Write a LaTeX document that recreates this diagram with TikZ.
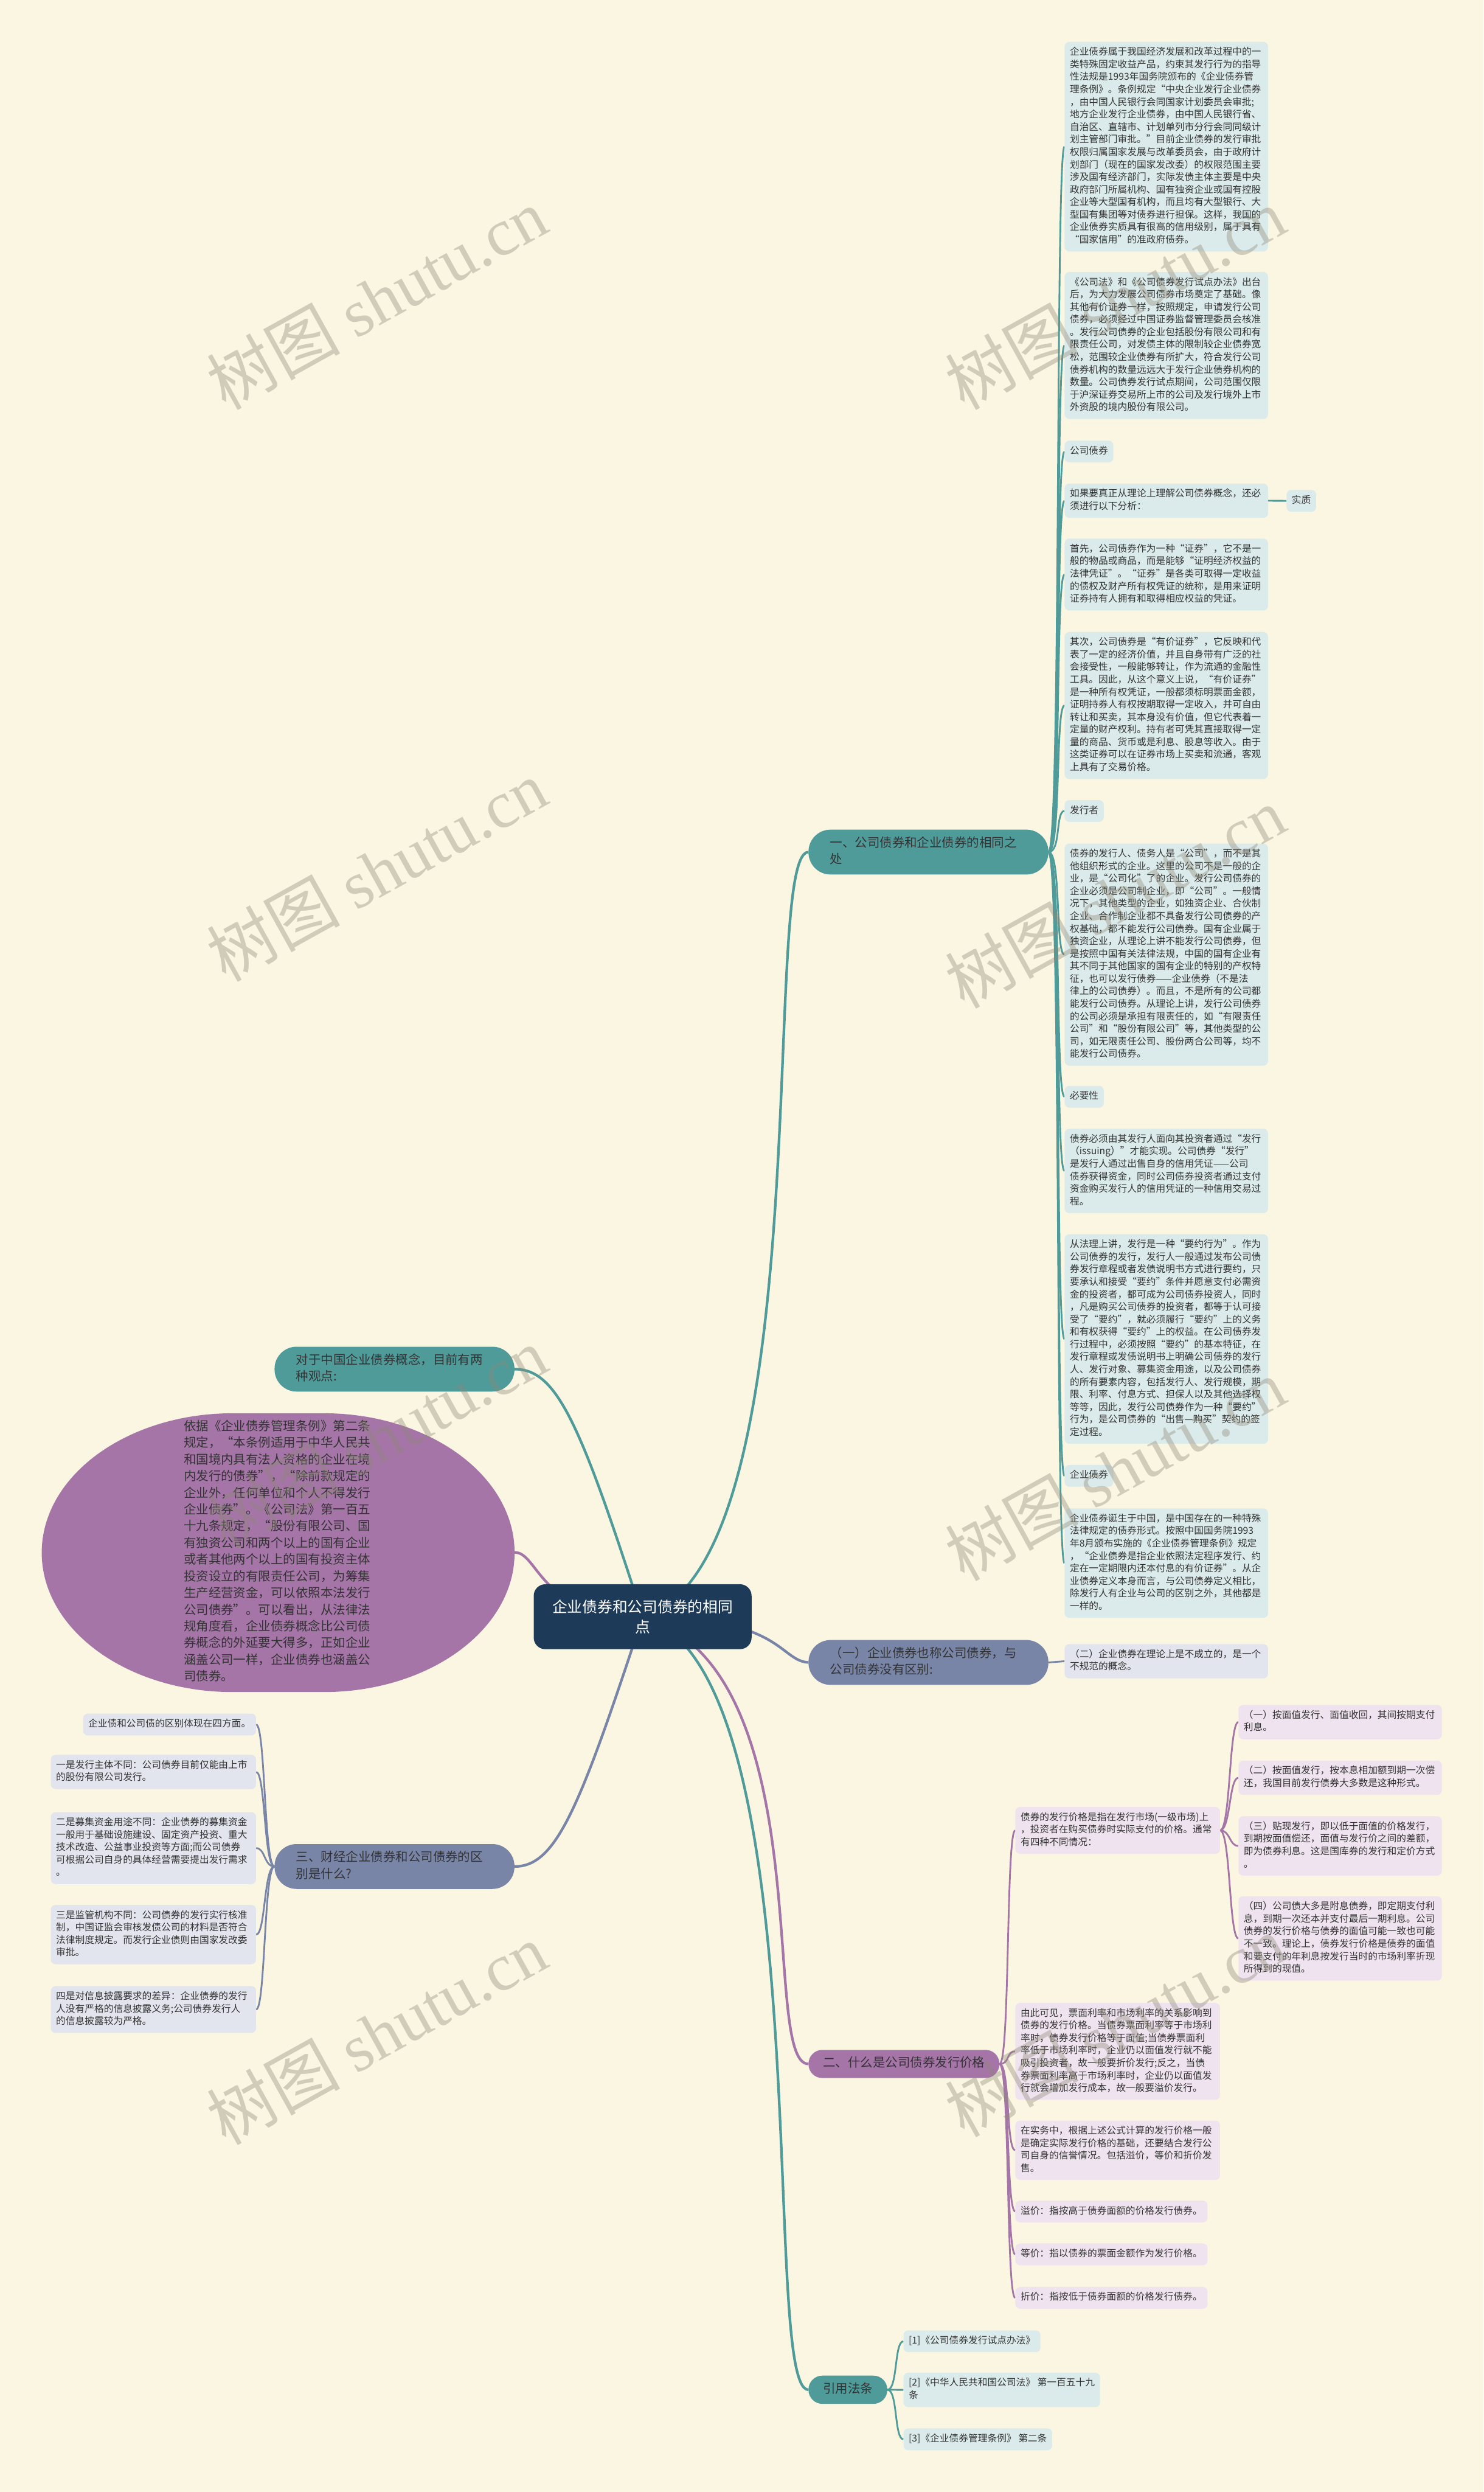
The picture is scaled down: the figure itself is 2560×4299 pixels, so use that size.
\documentclass[tikz,border=0pt]{standalone}
\usepackage{fontspec}
\setmainfont{Noto Sans CJK SC}
\newfontfamily\wmfont{Liberation Serif}
\definecolor{bgc}{HTML}{FBF6E2}
\definecolor{tealD}{HTML}{4E9B9A}
\definecolor{grayD}{HTML}{7985A7}
\definecolor{purpD}{HTML}{A575A8}
\definecolor{navy}{HTML}{1D3B58}
\definecolor{tealL}{HTML}{DBEAEA}
\definecolor{grayL}{HTML}{E3E5EE}
\definecolor{purpL}{HTML}{EEE3EE}
\definecolor{txt}{HTML}{333333}
\definecolor{wmc}{HTML}{8E8A78}
\newcommand\fsA{\fontsize{16.5pt}{21.6pt}\selectfont}
\newcommand\fsB{\fontsize{21.5pt}{28.7pt}\selectfont}
\newcommand\fsC{\fontsize{26pt}{34pt}\selectfont}
\newcommand\fsE{\fontsize{21.5pt}{28.8pt}\selectfont}
\newcommand\fsW{\fontsize{115pt}{120pt}\selectfont}
\pgfdeclarelayer{bglayer}
\pgfsetlayers{bglayer,main}
\tikzset{
  leaf/.style={anchor=north west, rounded corners=8pt, inner xsep=9pt, inner ysep=8pt, align=left, font=\fsA, text=txt},
  tleaf/.style={leaf, fill=tealL},
  gleaf/.style={leaf, fill=grayL},
  pleaf/.style={leaf, fill=purpL},
  lleaf/.style={gleaf, anchor=north east},
  wide/.style={text width=333pt},
  topic/.style={anchor=north west, align=left, font=\fsB, text=txt, inner ysep=10pt},
  topicW/.style={topic, text width=340pt, inner xsep=37pt, rounded corners=38pt},
  topicN/.style={topic, inner xsep=25pt, rounded corners=24pt},
  edgeM/.style={line width=4.5pt},
  edgeS/.style={line width=3pt},
  wmark/.style={rotate=29, text=wmc, opacity=0.38, font=\fsW}
}
\begin{document}
\begin{tikzpicture}[x=1pt,y=-1pt]
\begin{pgfonlayer}{bglayer}
\fill[bgc] (0,0) rectangle (2560,4299);
\end{pgfonlayer}
\useasboundingbox (0,0) rectangle (2560,4299);

% ---------- root ----------
\node[fill=navy, text=white, font=\fsC, rounded corners=20pt, minimum width=376pt, minimum height=112pt, align=center] (root) at (1109,2789) {企业债券和公司债券的相同\\点};

% ---------- level 1 ----------
\node[topicW, fill=tealD] (a1) at (1395,1431) {\strut 一、公司债券和企业债券的相同之\\处\strut};
\node[topicW, fill=grayD] (a2) at (1395,2829) {\strut （一）企业债券也称公司债券，与\\公司债券没有区别:\strut};
\node[topicN, fill=purpD] (a3) at (1395,3536) {\strut 二、什么是公司债券发行价格\strut};
\node[topicN, fill=tealD] (a4) at (1395,4098) {\strut 引用法条\strut};
\node[topicW, fill=tealD, anchor=north east] (b1) at (888,2323) {\strut 对于中国企业债券概念，目前有两\\种观点:\strut};
\node[topicW, fill=grayD, anchor=north east] (b3) at (888,3181) {\strut 三、财经企业债券和公司债券的区\\别是什么?\strut};

% ellipse-like bubble
\fill[purpD] (402,2438) -- (558,2438) arc[start angle=-90, end angle=90, x radius=330, y radius=240.5] -- (402,2919) arc[start angle=90, end angle=270, x radius=330, y radius=240.5] -- cycle;
\coordinate (b2) at (888,2678);
\node[font=\fsE, text=txt, text width=326pt, align=left, inner sep=0pt] (b2t) at (480,2678) {\strut 依据《企业债券管理条例》第二条\\规定，“本条例适用于中华人民共\\和国境内具有法人资格的企业在境\\内发行的债券”，“除前款规定的\\企业外，任何单位和个人不得发行\\企业债券”。《公司法》第一百五\\十九条规定，“股份有限公司、国\\有独资公司和两个以上的国有企业\\或者其他两个以上的国有投资主体\\投资设立的有限责任公司，为筹集\\生产经营资金，可以依照本法发行\\公司债券”。可以看出，从法律法\\规角度看，企业债券概念比公司债\\券概念的外延要大得多，正如企业\\涵盖公司一样，企业债券也涵盖公\\司债券。\strut};

% ---------- right column (branch 1) ----------
\node[tleaf, wide] (r1) at (1837,72) {\strut 企业债券属于我国经济发展和改革过程中的一\\类特殊固定收益产品，约束其发行行为的指导\\性法规是1993年国务院颁布的《企业债券管\\理条例》。条例规定“中央企业发行企业债券\\，由中国人民银行会同国家计划委员会审批;\\地方企业发行企业债券，由中国人民银行省、\\自治区、直辖市、计划单列市分行会同同级计\\划主管部门审批。”目前企业债券的发行审批\\权限归属国家发展与改革委员会，由于政府计\\划部门（现在的国家发改委）的权限范围主要\\涉及国有经济部门，实际发债主体主要是中央\\政府部门所属机构、国有独资企业或国有控股\\企业等大型国有机构，而且均有大型银行、大\\型国有集团等对债券进行担保。这样，我国的\\企业债券实质具有很高的信用级别，属于具有\\“国家信用”的准政府债券。\strut};
\node[tleaf, wide] (r2) at (1837,469) {\strut《公司法》和《公司债券发行试点办法》出台\\后，为大力发展公司债券市场奠定了基础。像\\其他有价证券一样，按照规定，申请发行公司\\债券，必须经过中国证券监督管理委员会核准\\。发行公司债券的企业包括股份有限公司和有\\限责任公司，对发债主体的限制较企业债券宽\\松，范围较企业债券有所扩大，符合发行公司\\债券机构的数量远远大于发行企业债券机构的\\数量。公司债券发行试点期间，公司范围仅限\\于沪深证券交易所上市的公司及发行境外上市\\外资股的境内股份有限公司。\strut};
\node[tleaf] (r3) at (1837,760) {\strut 公司债券\strut};
\node[tleaf, wide] (r4) at (1837,834) {\strut 如果要真正从理论上理解公司债券概念，还必\\须进行以下分析：\strut};
\node[tleaf] (r4b) at (2220,845) {\strut 实质\strut};
\node[tleaf, wide] (r5) at (1837,929) {\strut 首先，公司债券作为一种“证券”，它不是一\\般的物品或商品，而是能够“证明经济权益的\\法律凭证”。“证券”是各类可取得一定收益\\的债权及财产所有权凭证的统称，是用来证明\\证券持有人拥有和取得相应权益的凭证。\strut};
\node[tleaf, wide] (r6) at (1837,1090) {\strut 其次，公司债券是“有价证券”，它反映和代\\表了一定的经济价值，并且自身带有广泛的社\\会接受性，一般能够转让，作为流通的金融性\\工具。因此，从这个意义上说，“有价证券”\\是一种所有权凭证，一般都须标明票面金额，\\证明持券人有权按期取得一定收入，并可自由\\转让和买卖，其本身没有价值，但它代表着一\\定量的财产权利。持有者可凭其直接取得一定\\量的商品、货币或是利息、股息等收入。由于\\这类证券可以在证券市场上买卖和流通，客观\\上具有了交易价格。\strut};
\node[tleaf] (r7) at (1837,1380) {\strut 发行者\strut};
\node[tleaf, wide] (r8) at (1837,1455) {\strut 债券的发行人、债务人是“公司”，而不是其\\他组织形式的企业。这里的公司不是一般的企\\业，是“公司化”了的企业。发行公司债券的\\企业必须是公司制企业，即“公司”。一般情\\况下，其他类型的企业，如独资企业、合伙制\\企业、合作制企业都不具备发行公司债券的产\\权基础，都不能发行公司债券。国有企业属于\\独资企业，从理论上讲不能发行公司债券，但\\是按照中国有关法律法规，中国的国有企业有\\其不同于其他国家的国有企业的特别的产权特\\征，也可以发行债券——企业债券（不是法\\律上的公司债券）。而且，不是所有的公司都\\能发行公司债券。从理论上讲，发行公司债券\\的公司必须是承担有限责任的，如“有限责任\\公司”和“股份有限公司”等，其他类型的公\\司，如无限责任公司、股份两合公司等，均不\\能发行公司债券。\strut};
\node[tleaf] (r9) at (1837,1873) {\strut 必要性\strut};
\node[tleaf, wide] (r10) at (1837,1947) {\strut 债券必须由其发行人面向其投资者通过“发行\\（issuing）”才能实现。公司债券“发行”\\是发行人通过出售自身的信用凭证——公司\\债券获得资金，同时公司债券投资者通过支付\\资金购买发行人的信用凭证的一种信用交易过\\程。\strut};
\node[tleaf, wide] (r11) at (1837,2129) {\strut 从法理上讲，发行是一种“要约行为”。作为\\公司债券的发行，发行人一般通过发布公司债\\券发行章程或者发债说明书方式进行要约，只\\要承认和接受“要约”条件并愿意支付必需资\\金的投资者，都可成为公司债券投资人，同时\\，凡是购买公司债券的投资者，都等于认可接\\受了“要约”，就必须履行“要约”上的义务\\和有权获得“要约”上的权益。在公司债券发\\行过程中，必须按照“要约”的基本特征，在\\发行章程或发债说明书上明确公司债券的发行\\人、发行对象、募集资金用途，以及公司债券\\的所有要素内容，包括发行人、发行规模，期\\限、利率、付息方式、担保人以及其他选择权\\等等，因此，发行公司债券作为一种“要约”\\行为，是公司债券的“出售—购买”契约的签\\定过程。\strut};
\node[tleaf] (r12) at (1837,2527) {\strut 企业债券\strut};
\node[tleaf, wide] (r13) at (1837,2602) {\strut 企业债券诞生于中国，是中国存在的一种特殊\\法律规定的债券形式。按照中国国务院1993\\年8月颁布实施的《企业债券管理条例》规定\\，“企业债券是指企业依照法定程序发行、约\\定在一定期限内还本付息的有价证券”。从企\\业债券定义本身而言，与公司债券定义相比，\\除发行人有企业与公司的区别之外，其他都是\\一样的。\strut};
\node[gleaf, wide] (r14) at (1837,2836) {\strut（二）企业债券在理论上是不成立的，是一个\\不规范的概念。\strut};

% ---------- price branch ----------
\node[pleaf, text width=335pt] (p0) at (1752,3117) {\strut 债券的发行价格是指在发行市场(一级市场)上\\，投资者在购买债券时实际支付的价格。通常\\有四种不同情况：\strut};
\node[pleaf, wide] (p1) at (2137,2941) {\strut（一）按面值发行、面值收回，其间按期支付\\利息。\strut};
\node[pleaf, wide] (p2) at (2137,3037) {\strut（二）按面值发行，按本息相加额到期一次偿\\还，我国目前发行债券大多数是这种形式。\strut};
\node[pleaf, wide] (p3) at (2137,3133) {\strut（三）贴现发行，即以低于面值的价格发行，\\到期按面值偿还，面值与发行价之间的差额，\\即为债券利息。这是国库券的发行和定价方式\\。\strut};
\node[pleaf, wide] (p4) at (2137,3271) {\strut（四）公司债大多是附息债券，即定期支付利\\息，到期一次还本并支付最后一期利息。公司\\债券的发行价格与债券的面值可能一致也可能\\不一致。理论上，债券发行价格是债券的面值\\和要支付的年利息按发行当时的市场利率折现\\所得到的现值。\strut};
\node[pleaf, text width=335pt] (p5) at (1752,3455) {\strut 由此可见，票面利率和市场利率的关系影响到\\债券的发行价格。当债券票面利率等于市场利\\率时，债券发行价格等于面值;当债券票面利\\率低于市场利率时，企业仍以面值发行就不能\\吸引投资者，故一般要折价发行;反之，当债\\券票面利率高于市场利率时，企业仍以面值发\\行就会增加发行成本，故一般要溢价发行。\strut};
\node[pleaf, text width=335pt] (p6) at (1752,3658) {\strut 在实务中，根据上述公式计算的发行价格一般\\是确定实际发行价格的基础，还要结合发行公\\司自身的信誉情况。包括溢价，等价和折价发\\售。\strut};
\node[pleaf] (p7) at (1752,3796) {\strut 溢价：指按高于债券面额的价格发行债券。\strut};
\node[pleaf] (p8) at (1752,3870) {\strut 等价：指以债券的票面金额作为发行价格。\strut};
\node[pleaf] (p9) at (1752,3945) {\strut 折价：指按低于债券面额的价格发行债券。\strut};

% ---------- citations ----------
\node[tleaf] (c1) at (1559,4020) {\strut[1]《公司债券发行试点办法》\strut};
\node[tleaf] (c2) at (1559,4093) {\strut[2]《中华人民共和国公司法》~第一百五十九\\条\strut};
\node[tleaf] (c3) at (1559,4189) {\strut[3]《企业债券管理条例》~第二条\strut};

% ---------- left branch (三) ----------
\node[lleaf] (l0) at (442,2956) {\strut 企业债和公司债的区别体现在四方面。\strut};
\node[lleaf, text width=336pt] (l1) at (442,3027) {\strut 一是发行主体不同：公司债券目前仅能由上市\\的股份有限公司发行。\strut};
\node[lleaf, text width=336pt] (l2) at (442,3126) {\strut 二是募集资金用途不同：企业债券的募集资金\\一般用于基础设施建设、固定资产投资、重大\\技术改造、公益事业投资等方面;而公司债券\\可根据公司自身的具体经营需要提出发行需求\\。\strut};
\node[lleaf, text width=336pt] (l3) at (442,3286) {\strut 三是监管机构不同：公司债券的发行实行核准\\制，中国证监会审核发债公司的材料是否符合\\法律制度规定。而发行企业债则由国家发改委\\审批。\strut};
\node[lleaf, text width=336pt] (l4) at (442,3426) {\strut 四是对信息披露要求的差异：企业债券的发行\\人没有严格的信息披露义务;公司债券发行人\\的信息披露较为严格。\strut};

% ---------- connectors ----------
\begin{pgfonlayer}{bglayer}
\draw[edgeM, tealD] (root.center) .. controls (1420,2700) and (1310,1470) .. (a1.west);
\draw[edgeM, grayD] (root.center) .. controls (1350,2789) and (1345,2865) .. (a2.west);
\draw[edgeM, purpD] (root.center) .. controls (1420,2880) and (1310,3560) .. (a3.west);
\draw[edgeM, tealD] (root.center) .. controls (1420,2880) and (1310,4123) .. (a4.west);
\draw[edgeM, tealD] (root.center) .. controls (1000,2450) and (960,2362) .. (b1.east);
\draw[edgeM, purpD] (root.center) .. controls (930,2789) and (930,2678) .. (b2);
\draw[edgeM, grayD] (root.center) .. controls (1000,3120) and (960,3220) .. (b3.east);
\foreach \n in {r1,r2,r3,r4,r5,r6,r7,r8,r9,r10,r11,r12,r13}
  \draw[edgeS, tealD] (a1.east) .. controls +(22,0) and +(-16,0) .. (\n.west);
\draw[edgeS, tealD] (r4.east) -- (r4b.west);
\draw[edgeS, grayD] (a2.east) -- (r14.west);
\foreach \n in {p0,p5,p6,p7,p8,p9}
  \draw[edgeS, purpD] (a3.east) .. controls +(18,0) and +(-16,0) .. (\n.west);
\foreach \n in {p1,p2,p3,p4}
  \draw[edgeS, purpD] (p0.east) .. controls +(18,0) and +(-16,0) .. (\n.west);
\foreach \n in {c1,c2,c3}
  \draw[edgeS, tealD] (a4.east) .. controls +(18,0) and +(-16,0) .. (\n.west);
\foreach \n in {l0,l1,l2,l3,l4}
  \draw[edgeS, grayD] (b3.west) .. controls +(-18,0) and +(16,0) .. (\n.east);
\end{pgfonlayer}

% ---------- watermarks ----------
\foreach \wx/\wy [count=\i] in {650/515, 1924/515, 650/1502, 1924/1548, 650/2480, 1924/2535, 650/3508, 1924/3495}
  \node[wmark] (wm\i) at (\wx,\wy) {树图 {\wmfont shutu.cn}};
\end{tikzpicture}
\end{document}
